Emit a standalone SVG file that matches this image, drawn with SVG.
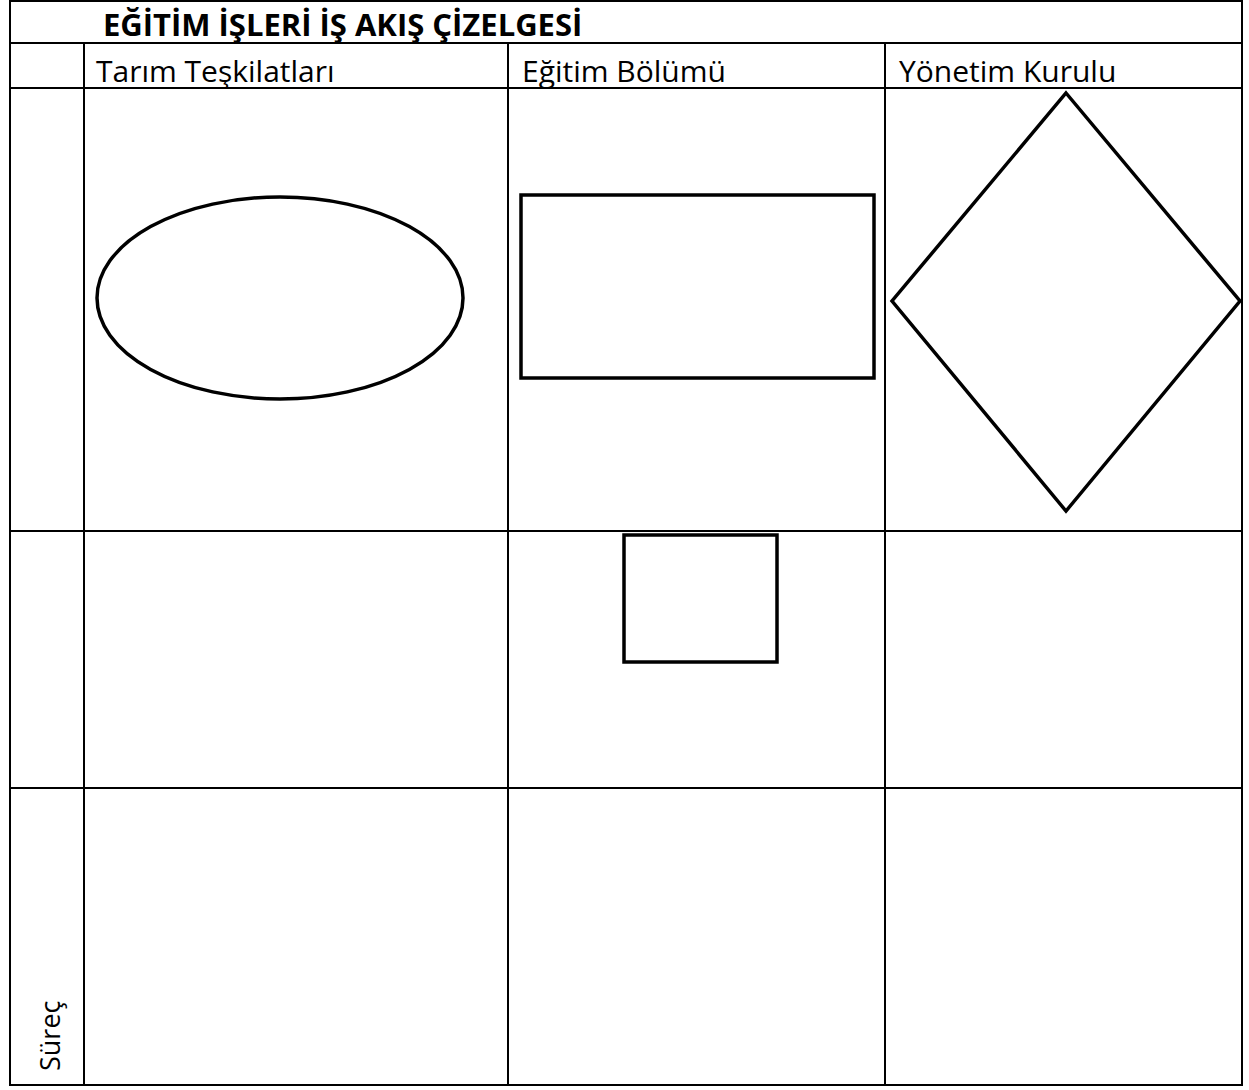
<svg xmlns="http://www.w3.org/2000/svg" width="1249" height="1090" viewBox="0 0 1249 1090">
<style>
.grid{stroke:#000;stroke-width:2;fill:none}
.shape{stroke:#000;stroke-width:3.5;fill:none}
.t{font-family:"Open Sans","Noto Sans",sans-serif;font-size:30px;fill:#000}
.b{font-weight:bold;font-size:31px}
</style>
<rect width="1249" height="1090" fill="#fff"/>
<g id="table">
<rect class="grid" x="10" y="1" width="1232" height="1084"/>
<line class="grid" x1="10" y1="43" x2="1242" y2="43"/>
<line class="grid" x1="10" y1="88" x2="1242" y2="88"/>
<line class="grid" x1="10" y1="531" x2="1242" y2="531"/>
<line class="grid" x1="10" y1="788" x2="1242" y2="788"/>
<line class="grid" x1="84" y1="43" x2="84" y2="1085"/>
<line class="grid" x1="508" y1="43" x2="508" y2="1085"/>
<line class="grid" x1="885" y1="43" x2="885" y2="1085"/>
</g>
<g id="labels">
<text class="t b" x="103" y="36">EĞİTİM İŞLERİ İŞ AKIŞ ÇİZELGESİ</text>
<text class="t" x="96" y="82">Tarım Teşkilatları</text>
<text class="t" x="522" y="82">Eğitim Bölümü</text>
<text class="t" x="899" y="82">Yönetim Kurulu</text>
<text class="t" style="font-size:27px" transform="translate(60,1071) rotate(-90)">Süreç</text>
</g>
<g id="n1"><ellipse class="shape" cx="280" cy="298" rx="183" ry="101"/></g>
<g id="n2"><rect class="shape" x="521" y="195" width="353" height="183"/></g>
<g id="n3"><polygon class="shape" points="1066,93 1240,301 1066,511 892,301"/></g>
<g id="n4"><rect class="shape" x="624" y="535" width="153" height="127"/></g>
<g id="connectors"></g>
</svg>
